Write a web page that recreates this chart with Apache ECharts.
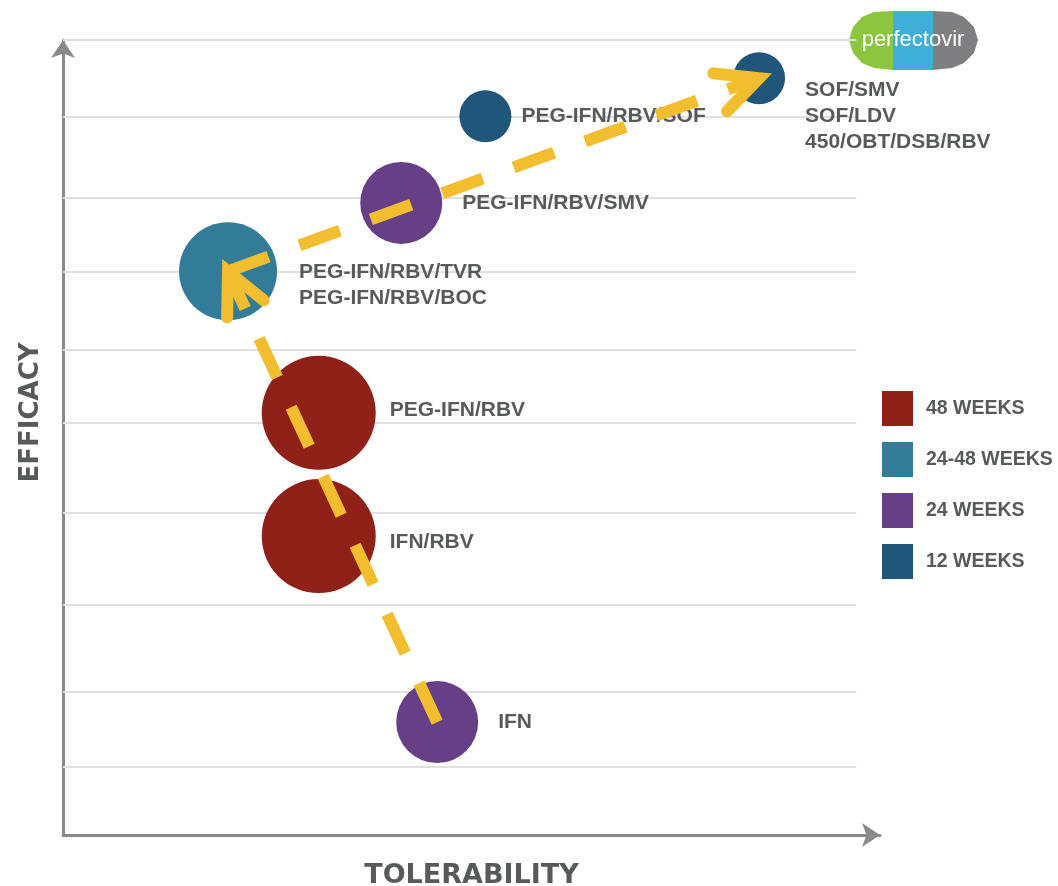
<!DOCTYPE html>
<html>
<head>
<meta charset="utf-8">
<script src="https://cdn.jsdelivr.net/npm/echarts@6/dist/echarts.min.js"></script>
<style>
  html, body { margin: 0; padding: 0; background: #fff; }
  #chart { width: 1058px; height: 886px; }
</style>
</head>
<body>
<div id="chart"></div>
<script>
// treatments (x = tolerability, y = efficacy, 0..100)
const treatments = [
  'IFN',
  'IFN/RBV',
  'PEG-IFN/RBV',
  'PEG-IFN/RBV/TVR\nPEG-IFN/RBV/BOC',
  'PEG-IFN/RBV/SMV',
  'PEG-IFN/RBV/SOF',
  'SOF/SMV\nSOF/LDV\n450/OBT/DSB/RBV'
];
const tolerability = [45.8, 31.3, 31.3, 20.2, 41.4, 51.7, 85.2];
const efficacy = [14.2, 37.6, 53.1, 70.9, 79.5, 90.4, 95.2];
const bubbleValue = [41, 57, 57, 49, 41, 26, 26];
const duration = ['24 WEEKS', '48 WEEKS', '48 WEEKS', '24-48 WEEKS', '24 WEEKS', '12 WEEKS', '12 WEEKS'];
const durationGroups = ['48 WEEKS', '24-48 WEEKS', '24 WEEKS', '12 WEEKS'];
// horizontal guide levels (efficacy)
const gridLevels = [8.6, 18, 29, 40.5, 51.8, 61.1, 70.9, 80.1, 90.4, 100];
// progression arrows, by treatment index
const pathway = [[0, 3], [3, 6]];

const groupColors = ['#8f2119', '#327c98', '#673f86', '#1f5679'];
const textColor = '#58595b';
const arrowColor = '#f3bd30';

// label placement per treatment (distance from bubble edge, vertical shift)
const labelPlace = {
  0: [20, 0], 1: [14, 6], 2: [14, -3], 3: [22, 14],
  4: [20, 0], 5: [10, 0], 6: [20, 38]
};

var chart = echarts.init(document.getElementById('chart'));

var bubbleSeries = durationGroups.map(function (g, gi) {
  var data = [];
  treatments.forEach(function (t, i) {
    if (duration[i] !== g) return;
    data.push({
      name: t,
      value: [tolerability[i], efficacy[i], bubbleValue[i]],
      label: {
        distance: labelPlace[i][0],
        offset: [0, labelPlace[i][1]]
      }
    });
  });
  return {
    name: g,
    type: 'scatter',
    z: 2,
    data: data,
    symbolSize: function (d) { return d[2] * 2; },
    itemStyle: { color: groupColors[gi], opacity: 1 },
    label: {
      show: true,
      position: 'right',
      formatter: '{b}',
      color: textColor,
      fontFamily: 'Liberation Sans',
      fontWeight: 'bold',
      fontSize: 21,
      lineHeight: 26
    },
    emphasis: { disabled: true }
  };
});

var arrowData = pathway.map(function (p) {
  return [tolerability[p[0]], efficacy[p[0]], tolerability[p[1]], efficacy[p[1]]];
});

var options = {
  animation: false,
  grid: { left: 63, right: 178, top: 40, bottom: 51, containLabel: false, outerBoundsMode: 'none' },
  xAxis: {
    type: 'value', min: 0, max: 100,
    name: 'TOLERABILITY', nameLocation: 'middle', nameGap: 27,
    nameTextStyle: { fontFamily: 'DejaVu Sans', fontWeight: 'bold', fontSize: 27, color: textColor },
    axisLine: {
      onZero: false,
      symbol: ['none', 'arrow'], symbolSize: [18, 18], symbolOffset: [0, 0],
      lineStyle: { color: '#8a8a8a', width: 3 }
    },
    axisTick: { show: false }, axisLabel: { show: false }, splitLine: { show: false }
  },
  yAxis: {
    type: 'value', min: 0, max: 100,
    name: 'EFFICACY', nameLocation: 'middle', nameGap: 19, nameRotate: 90,
    nameTextStyle: { fontFamily: 'DejaVu Sans', fontWeight: 'bold', fontSize: 26, color: textColor, padding: [0, 0, 0, 50] },
    axisLine: {
      onZero: false,
      symbol: ['none', 'arrow'], symbolSize: [18, 18], symbolOffset: [0, 0],
      lineStyle: { color: '#8a8a8a', width: 3 }
    },
    axisTick: { show: false }, axisLabel: { show: false }, splitLine: { show: false }
  },
  legend: {
    data: durationGroups,
    orient: 'vertical',
    left: 882, top: 391,
    padding: 0,
    icon: 'rect',
    itemWidth: 31, itemHeight: 35, itemGap: 16,
    selectedMode: false,
    textStyle: { fontFamily: 'Liberation Sans', fontWeight: 'bold', fontSize: 19.5, color: textColor, padding: [0, 0, 0, 8] }
  },
  graphic: [
    {
      type: 'group', z: 10, silent: true,
      children: [
        { type: 'polygon', shape: { points: [[893,11],[874,12],[862,17],[853,27],[849,40],[853,53],[862,63],[874,68],[893,70]] }, style: { fill: '#8cc63e' } },
        { type: 'polygon', shape: { points: [[893,11],[933,11],[933,70],[893,70]] }, style: { fill: '#3fafd7' } },
        { type: 'polygon', shape: { points: [[933,11],[952,12],[964,17],[974,27],[978,40],[974,53],[964,63],[952,68],[933,70]] }, style: { fill: '#7f7f82' } },
        { type: 'text', x: 913, y: 40, style: { text: 'perfectovir', fill: '#fff', fontFamily: 'Liberation Sans', fontSize: 22, align: 'center', verticalAlign: 'middle' } }
      ]
    }
  ],
  series: [
    {
      type: 'line', data: [], z: 1, silent: true,
      markLine: {
        z: 1,
        silent: true, animation: false, symbol: 'none',
        label: { show: false },
        lineStyle: { color: '#e0e0e0', width: 2, type: 'solid' },
        data: gridLevels.map(function (v) { return [{ coord: [0, v] }, { coord: [97.1, v] }]; })
      }
    }
  ].concat(bubbleSeries).concat([
    {
      type: 'custom',
      z: 5,
      silent: true,
      data: arrowData,
      encode: { x: [0, 2], y: [1, 3] },
      renderItem: function (params, api) {
        var a = api.coord([api.value(0), api.value(1)]);
        var b = api.coord([api.value(2), api.value(3)]);
        var back = Math.atan2(a[1] - b[1], a[0] - b[0]);
        var spread = 26 * Math.PI / 180;
        var arm = 46;
        var p1 = [b[0] + arm * Math.cos(back + spread), b[1] + arm * Math.sin(back + spread)];
        var p2 = [b[0] + arm * Math.cos(back - spread), b[1] + arm * Math.sin(back - spread)];
        return {
          type: 'group',
          children: [
            {
              type: 'line',
              shape: { x1: a[0], y1: a[1], x2: b[0], y2: b[1] },
              style: { stroke: arrowColor, lineWidth: 12, lineDash: [43, 33], lineCap: 'butt', fill: null }
            },
            {
              type: 'polyline',
              shape: { points: [p1, b, p2] },
              style: { stroke: arrowColor, lineWidth: 12, lineCap: 'round', lineJoin: 'miter', fill: null }
            }
          ]
        };
      }
    }
  ])
};

chart.setOption(options);
</script>
</body>
</html>
